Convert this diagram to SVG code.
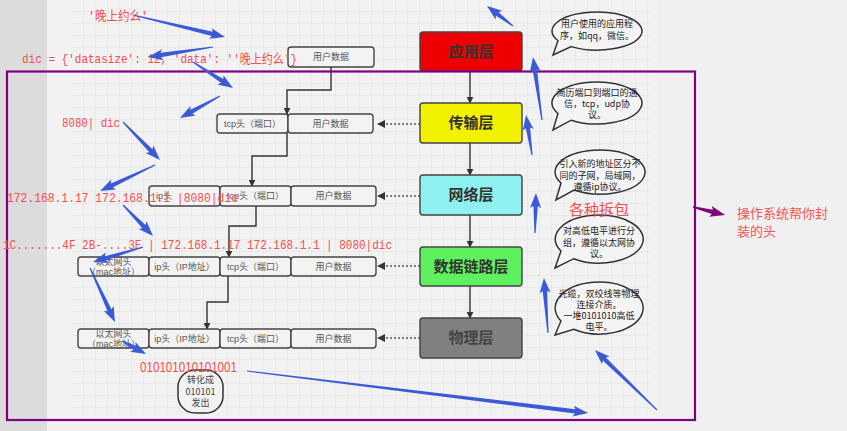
<svg xmlns="http://www.w3.org/2000/svg" width="847" height="431" viewBox="0 0 847 431">
<defs>
<pattern id="grid" width="12" height="12" patternUnits="userSpaceOnUse" x="0" y="0">
<path d="M12 0 V12 M0 12 H12" fill="none" stroke="#e1e1e1" stroke-width="1"/>
</pattern>
<marker id="ah" viewBox="0 0 10 10" refX="9" refY="5" markerWidth="7" markerHeight="7" orient="auto" markerUnits="userSpaceOnUse">
<path d="M0,0 L10,5 L0,10 Z" fill="#333"/>
</marker>
<marker id="ahl" viewBox="0 0 10 10" refX="9" refY="5" markerWidth="8" markerHeight="8" orient="auto" markerUnits="userSpaceOnUse">
<path d="M0,0 L10,5 L0,10 Z" fill="#333"/>
</marker>
</defs>
<style>
.pk{fill:#f3f3f3;stroke:#444;stroke-width:1.4}
.pt{font-family:"Liberation Sans","Noto Sans CJK SC",sans-serif;font-size:9px;fill:#555;text-anchor:middle}
.ly{stroke:#444;stroke-width:1.4}
.lt{font-family:"Noto Sans CJK SC",sans-serif;font-size:15px;font-weight:bold;fill:#333;text-anchor:middle}
.con{fill:none;stroke:#333;stroke-width:1.4}
.dot{fill:none;stroke:#555;stroke-width:1.4;stroke-dasharray:2 2}
.bb{fill:#f4f4f4;stroke:#333;stroke-width:1.5}
.bt{font-family:"Noto Sans CJK SC",sans-serif;font-size:9px;fill:#222;text-anchor:middle}
.rt{font-family:"Liberation Mono","Noto Sans CJK SC",monospace;font-size:13px;fill:#f24e4e}
.ba{fill:#3b5bd6}
</style>
<rect x="0" y="0" width="847" height="431" fill="#f0f0f0"/>
<rect x="0" y="0" width="47" height="431" fill="#dcdcdc"/>
<rect x="47" y="0" width="610" height="418" fill="#f2f2f2"/>
<rect x="72" y="0" width="578" height="415" fill="url(#grid)"/>

<g id="connectors">
<path class="con" d="M470,71 V103" marker-end="url(#ah)"/>
<path class="con" d="M470,143 V175" marker-end="url(#ah)"/>
<path class="con" d="M470,215 V247" marker-end="url(#ah)"/>
<path class="con" d="M470,286 V318" marker-end="url(#ah)"/>
<path class="con" d="M331,67 V90 H287 V114" marker-end="url(#ah)"/>
<path class="con" d="M287,133 V156 H252 V186" marker-end="url(#ah)"/>
<path class="con" d="M256,206 V226 H229 V257" marker-end="url(#ah)"/>
<path class="con" d="M228,276 V302 H207 V329" marker-end="url(#ah)"/>
<path class="dot" d="M420,124 H378" marker-end="url(#ahl)"/>
<path class="dot" d="M420,196 H378" marker-end="url(#ahl)"/>
<path class="dot" d="M420,266 H378" marker-end="url(#ahl)"/>
<path class="dot" d="M420,338 H378" marker-end="url(#ahl)"/>
</g>

<g id="row0">
<rect class="pk" x="288" y="47" width="86" height="20" rx="3"/>
<text class="pt" x="331" y="60">用户数据</text>
</g>
<g id="row1">
<rect class="pk" x="217" y="114" width="71" height="19" rx="3"/>
<text class="pt" x="252.5" y="127">tcp头（端口）</text>
<rect class="pk" x="288" y="114" width="85" height="19" rx="3"/>
<text class="pt" x="330.5" y="127">用户数据</text>
</g>
<g id="row2">
<rect class="pk" x="149" y="186" width="71" height="20" rx="3"/>
<text class="pt" x="164" y="199">ip头</text>
<rect class="pk" x="220" y="186" width="71" height="20" rx="3"/>
<text class="pt" x="255.5" y="199">tcp头（端口）</text>
<rect class="pk" x="291" y="186" width="85" height="20" rx="3"/>
<text class="pt" x="333.5" y="199">用户数据</text>
</g>
<g id="row3">
<rect class="pk" x="78" y="257" width="71" height="19" rx="3"/>
<text class="pt" x="113.5" y="265">以太网头</text>
<text class="pt" x="113.5" y="275">（mac地址）</text>
<rect class="pk" x="149" y="257" width="71" height="19" rx="3"/>
<text class="pt" x="184.5" y="270">ip头（IP地址）</text>
<rect class="pk" x="220" y="257" width="71" height="19" rx="3"/>
<text class="pt" x="255.5" y="270">tcp头（端口）</text>
<rect class="pk" x="291" y="257" width="85" height="19" rx="3"/>
<text class="pt" x="333.5" y="270">用户数据</text>
</g>
<g id="row4">
<rect class="pk" x="78" y="329" width="71" height="19" rx="3"/>
<text class="pt" x="113.5" y="337">以太网头</text>
<text class="pt" x="113.5" y="347">（mac地址）</text>
<rect class="pk" x="149" y="329" width="71" height="19" rx="3"/>
<text class="pt" x="184.5" y="342">ip头（IP地址）</text>
<rect class="pk" x="220" y="329" width="71" height="19" rx="3"/>
<text class="pt" x="255.5" y="342">tcp头（端口）</text>
<rect class="pk" x="291" y="329" width="85" height="19" rx="3"/>
<text class="pt" x="333.5" y="342">用户数据</text>
</g>
<g id="send">
<rect class="bb" x="178" y="370" width="45" height="43" rx="17" style="fill:#f2f2f2"/>
<text class="bt" x="200.5" y="383" style="fill:#444">转化成</text>
<text class="bt" x="200.5" y="394.5" style="fill:#444">010101</text>
<text class="bt" x="200.5" y="406" style="fill:#444">发出</text>
</g>

<g id="layer-app">
<rect class="ly" x="420" y="32" width="102" height="39" rx="3" fill="#ee0000"/>
<text class="lt" x="471" y="57">应用层</text>
</g>
<g id="layer-transport">
<rect class="ly" x="420" y="103" width="102" height="40" rx="3" fill="#f2f200"/>
<text class="lt" x="471" y="128">传输层</text>
</g>
<g id="layer-network">
<rect class="ly" x="420" y="175" width="102" height="40" rx="3" fill="#8ff0f0"/>
<text class="lt" x="471" y="200">网络层</text>
</g>
<g id="layer-datalink">
<rect class="ly" x="420" y="247" width="102" height="39" rx="3" fill="#5ef05e"/>
<text class="lt" x="471" y="272">数据链路层</text>
</g>
<g id="layer-physical">
<rect class="ly" x="420" y="318" width="102" height="40" rx="3" fill="#808080"/>
<text class="lt" x="471" y="343" style="fill:#444">物理层</text>
</g>

<rect x="7" y="71.5" width="688" height="348.5" fill="none" stroke="#800080" stroke-width="2.2"/>

<g id="bubble1">
<path class="bb" d="M558,40.5 A45,19 0 1 1 571.2,46.6 L553,55 Z"/>
<text class="bt" x="597" y="27">用户使用的应用程</text>
<text class="bt" x="597" y="39">序，如qq，微信。</text>
</g>
<g id="bubble2">
<path class="bb" d="M558,113.5 A45,21 0 1 1 571.2,120.2 L553,130 Z"/>
<text class="bt" x="597" y="96">简历端口到端口的通</text>
<text class="bt" x="597" y="107">信，tcp，udp协</text>
<text class="bt" x="597" y="118">议。</text>
</g>
<g id="bubble3">
<path class="bb" d="M561,183 A45,22 0 1 1 574,190 L556,200 Z"/>
<text class="bt" x="600" y="167">引入新的地址区分不</text>
<text class="bt" x="600" y="178.5">同的子网，局域网，</text>
<text class="bt" x="600" y="190">遵循ip协议。</text>
</g>
<g id="bubble4">
<path class="bb" d="M561,251 A44,24 0 1 1 573.8,258.7 L555,268 Z"/>
<text class="bt" x="599" y="234">对高低电平进行分</text>
<text class="bt" x="599" y="245.5">组，遵循以太网协</text>
<text class="bt" x="599" y="257">议。</text>
</g>
<g id="bubble5">
<path class="bb" d="M561,321 A44,26 0 1 1 573.8,329.3 L555,335 Z"/>
<text class="bt" x="599" y="297">光缆，双绞线等物理</text>
<text class="bt" x="599" y="308">连接介质。</text>
<text class="bt" x="599" y="319">一堆0101010高低</text>
<text class="bt" x="599" y="330">电平。</text>
</g>

<g id="notes">
<text class="rt" x="88" y="20" textLength="60" lengthAdjust="spacingAndGlyphs">'晚上约么'</text>
<text class="rt" x="22" y="63" textLength="275" lengthAdjust="spacingAndGlyphs">dic = {'datasize': 12, 'data': ''晚上约么'}</text>
<text class="rt" x="62" y="127" textLength="58" lengthAdjust="spacingAndGlyphs">8080| dic</text>
<text class="rt" x="7" y="202" textLength="231" lengthAdjust="spacingAndGlyphs">172.168.1.17 172.168.1.1 |8080|dic</text>
<text class="rt" x="3" y="249" textLength="389" lengthAdjust="spacingAndGlyphs">1C.......4F 2B-....3E | 172.168.1.17 172.168.1.1 | 8080|dic</text>
<text x="140" y="372" textLength="97" lengthAdjust="spacingAndGlyphs" style="font-family:'Liberation Sans',sans-serif;font-size:14px;fill:#f24e4e">010101010101001</text>
<text x="569" y="215" style="font-family:'Noto Sans CJK SC',sans-serif;font-size:15px;fill:#f24e4e">各种拆包</text>
<text x="737" y="218" style="font-family:'Noto Sans CJK SC',sans-serif;font-size:13px;fill:#f25555">操作系统帮你封</text>
<text x="737" y="236" style="font-family:'Noto Sans CJK SC',sans-serif;font-size:13px;fill:#f25555">装的头</text>
</g>

<g id="annotation-arrows">
<polygon class="ba" transform="translate(133,15) rotate(13.45)" points="0,-0.6 81.6,-2.2 79.6,-5.5 94.6,0 79.6,5.5 81.6,2.2 0,0.6"/>
<polygon class="ba" transform="translate(213,47) rotate(171.25)" points="0,-0.6 52.8,-2.2 50.8,-5.5 65.8,0 50.8,5.5 52.8,2.2 0,0.6"/>
<polygon class="ba" transform="translate(193,62) rotate(33)" points="0,-0.6 34.7,-2.2 32.7,-5.5 47.7,0 32.7,5.5 34.7,2.2 0,0.6"/>
<polygon class="ba" transform="translate(220,96) rotate(151.2)" points="0,-0.6 32.7,-2.2 30.7,-5.5 45.7,0 30.7,5.5 32.7,2.2 0,0.6"/>
<polygon class="ba" transform="translate(123,122) rotate(45.8)" points="0,-0.6 40,-2.2 38,-5.5 53,0 38,5.5 40,2.2 0,0.6"/>
<polygon class="ba" transform="translate(155,165) rotate(154.7)" points="0,-0.6 47.8,-2.2 45.8,-5.5 60.8,0 45.8,5.5 47.8,2.2 0,0.6"/>
<polygon class="ba" transform="translate(123,205) rotate(45.9)" points="0,-0.6 30.1,-2.2 28.1,-5.5 43.1,0 28.1,5.5 30.1,2.2 0,0.6"/>
<polygon class="ba" transform="translate(143,247) rotate(163.3)" points="0,-0.6 39.2,-2.2 37.2,-5.5 52.2,0 37.2,5.5 39.2,2.2 0,0.6"/>
<polygon class="ba" transform="translate(90,268) rotate(65.2)" points="0,-0.6 46.5,-2.2 44.5,-5.5 59.5,0 44.5,5.5 46.5,2.2 0,0.6"/>
<polygon class="ba" transform="translate(122,341) rotate(28.4)" points="0,-0.6 14.3,-2.2 12.3,-5.5 27.3,0 12.3,5.5 14.3,2.2 0,0.6"/>
<polygon class="ba" transform="translate(247,371) rotate(7.02)" points="0,-0.6 330.6,-2.2 328.6,-5.5 343.6,0 328.6,5.5 330.6,2.2 0,0.6"/>
<polygon class="ba" transform="translate(657,410) rotate(224.06)" points="0,-0.6 73.3,-2.2 71.3,-5.5 86.3,0 71.3,5.5 73.3,2.2 0,0.6"/>
<polygon class="ba" transform="translate(542,120) rotate(-98.13)" points="0,-0.6 50.6,-2.2 48.6,-5.5 63.6,0 48.6,5.5 50.6,2.2 0,0.6"/>
<polygon class="ba" transform="translate(532,155) rotate(-98.5)" points="0,-0.6 27.4,-2.2 25.4,-5.5 40.4,0 25.4,5.5 27.4,2.2 0,0.6"/>
<polygon class="ba" transform="translate(535,233) rotate(-88.6)" points="0,-0.6 27,-2.2 25,-5.5 40,0 25,5.5 27,2.2 0,0.6"/>
<polygon class="ba" transform="translate(548,333) rotate(-94.2)" points="0,-0.6 42.1,-2.2 40.1,-5.5 55.1,0 40.1,5.5 42.1,2.2 0,0.6"/>
<polygon class="ba" transform="translate(513,26) rotate(-142.4)" points="0,-0.6 19.8,-2.2 17.8,-5.5 32.8,0 17.8,5.5 19.8,2.2 0,0.6"/>
<polygon transform="translate(693,207) rotate(14)" fill="#800080" points="0,-0.8 20,-2.2 18,-5.5 33,0 18,5.5 20,2.2 0,0.8"/>
</g>
</svg>
